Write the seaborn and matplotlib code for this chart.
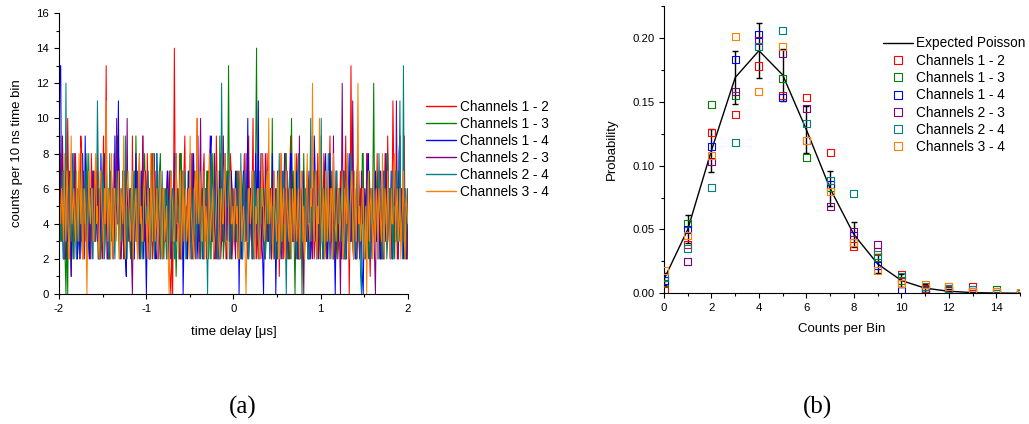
import numpy as np
import pandas as pd
import matplotlib
matplotlib.use("Agg")
import matplotlib.pyplot as plt
import seaborn as sns
from matplotlib.ticker import MultipleLocator, FormatStrFormatter
from matplotlib.lines import Line2D

# ---------------- data ----------------
channels = ["Channels 1 - 2", "Channels 1 - 3", "Channels 1 - 4",
            "Channels 2 - 3", "Channels 2 - 4", "Channels 3 - 4"]
colors = ["#FF0000", "#008000", "#0000FF", "#800080", "#008080", "#FF8000"]

# counts per 10 ns bin, -2 us .. +2 us (400 bins per channel pair)
ch12 = [5,3,8,4,3,7,6,2,2,5,10,6,4,3,1,5,7,4,3,8,5,2,6,4,2,9,8,3,4,6,3,7,7,2,5,3,2,8,6,4,
        4,7,3,5,8,2,5,6,2,3,6,9,4,5,13,4,3,6,5,2,7,4,2,8,6,3,4,5,8,7,3,2,5,6,2,4,7,3,4,5,
        3,5,6,2,9,4,2,7,5,3,4,6,7,2,3,5,9,4,5,6,2,8,6,3,4,5,8,2,3,6,7,4,5,7,2,3,6,5,4,2,
        5,4,3,6,7,2,2,1,0,3,0,5,14,6,3,4,6,2,8,5,4,3,2,7,9,4,5,2,3,6,7,3,4,8,6,5,2,4,10,6,
        4,2,6,5,3,7,8,3,5,4,2,6,7,9,4,3,6,5,3,2,9,6,5,4,2,8,6,3,4,5,7,2,3,6,5,4,8,7,2,3,
        6,3,4,7,3,2,7,5,5,4,2,6,8,3,4,5,6,9,3,4,5,6,10,3,4,5,2,7,7,4,5,2,3,8,6,5,4,3,8,6,
        3,6,5,2,7,4,2,5,6,3,4,7,1,4,8,5,5,2,3,6,6,4,2,3,7,9,4,5,5,3,3,7,8,4,6,2,2,5,4,6,
        7,4,5,3,3,6,6,2,9,5,4,7,2,3,5,4,8,6,3,2,6,5,4,8,7,3,2,4,5,6,9,3,3,5,6,4,4,7,5,2,
        3,5,7,4,5,2,2,6,9,3,4,5,0,4,13,6,3,2,6,5,4,7,8,3,2,6,5,4,7,2,3,5,6,8,4,3,1,4,5,6,
        6,4,3,5,8,2,4,6,2,3,7,5,5,8,3,4,9,6,4,2,6,5,11,7,3,4,5,2,2,6,7,3,4,5,6,9,3,4,5,2]
ch13 = [4,5,6,3,3,7,7,2,0,4,0,6,5,3,8,4,2,5,4,7,6,2,3,5,7,4,5,8,2,3,4,6,8,5,3,2,6,4,5,7,
        3,5,7,4,4,2,2,6,6,3,5,8,3,4,8,5,4,2,2,7,7,3,5,4,3,6,6,9,4,5,2,3,5,7,7,2,3,5,6,4,
        5,3,2,6,4,5,7,3,9,6,3,4,5,2,6,7,2,4,8,5,4,3,3,6,6,2,5,8,7,4,2,5,4,3,3,7,8,4,5,6,
        2,4,6,5,4,3,3,7,7,2,5,6,2,4,1,3,6,5,4,8,8,2,3,6,5,4,2,3,7,5,4,6,6,2,3,7,5,4,8,3,
        4,6,2,5,6,3,5,4,3,7,7,2,4,5,2,6,8,4,5,3,3,6,6,2,9,5,4,7,2,3,5,4,7,6,13,5,3,2,6,4,
        5,4,3,6,7,2,4,5,2,3,6,7,5,4,3,5,8,2,4,6,6,3,2,5,5,8,14,4,4,2,7,5,3,6,6,4,2,3,5,7,
        4,5,6,3,10,4,3,6,5,2,2,7,7,4,4,5,6,3,3,8,8,4,5,2,2,6,10,5,7,3,0,4,5,6,3,2,6,5,0,4,
        8,4,3,6,5,2,2,5,7,3,4,6,4,7,6,3,3,5,5,2,9,4,4,6,2,3,6,5,5,8,3,4,7,2,4,5,6,3,2,6,
        5,6,3,4,7,5,4,2,2,6,8,3,5,7,3,4,6,2,4,5,2,3,7,6,5,4,3,8,8,2,4,5,6,3,2,7,5,4,3,6,
        12,5,4,3,6,7,3,4,5,2,2,6,7,3,4,5,8,4,3,6,5,2,6,4,2,7,4,3,7,5,3,6,5,4,6,2,4,5,2,3]
ch14 = [6,13,13,4,4,2,2,6,7,3,3,5,5,4,1,7,8,3,4,6,6,2,3,5,2,4,7,8,5,3,9,4,4,6,3,2,6,5,2,7,
        5,3,7,4,3,6,4,2,8,5,2,3,6,7,5,4,3,2,4,6,7,5,2,3,9,4,5,6,11,3,3,5,6,4,4,7,2,1,7,5,
        4,6,3,5,6,2,2,4,8,3,5,7,3,4,7,5,4,2,6,3,0,4,5,6,2,3,7,5,4,8,3,2,8,4,5,6,2,3,6,5,
        3,4,5,2,7,6,4,3,2,5,6,4,3,7,8,5,5,3,2,4,4,6,0,3,6,5,3,2,7,4,5,6,2,3,8,5,4,7,3,2,
        6,3,4,5,2,6,7,4,5,2,3,5,6,8,9,3,4,6,2,4,5,7,3,2,7,5,6,4,4,3,8,6,2,5,5,3,3,7,6,4,
        4,5,7,3,3,6,0,4,5,2,2,7,6,4,4,5,10,3,3,6,5,2,7,4,2,8,6,5,11,3,4,6,3,2,0,4,5,7,6,3,
        3,5,5,2,8,4,2,6,0,3,6,5,4,7,3,2,7,4,5,6,2,3,6,5,4,8,8,3,3,4,5,6,7,2,2,5,4,3,6,7,
        5,4,3,6,7,2,4,5,2,3,6,4,9,7,5,2,3,6,4,5,7,3,2,4,6,8,5,2,3,5,8,4,4,6,2,3,0,4,5,6,
        3,5,6,2,4,7,7,3,2,4,5,6,8,3,3,5,6,4,4,2,2,6,7,5,5,3,3,1,0,4,6,5,4,7,8,3,2,6,5,4,
        4,6,7,3,3,5,5,2,2,4,6,7,4,3,8,5,3,6,5,4,7,2,2,5,6,3,4,6,3,8,9,4,5,3,2,6,6,5,4,6]
ch23 = [3,9,5,4,9,6,4,2,2,5,6,3,7,4,3,6,5,2,8,4,2,5,4,7,6,3,3,5,7,2,5,4,2,6,6,3,4,5,3,7,
        5,3,7,4,4,6,2,5,6,3,3,7,8,4,5,2,2,6,4,5,6,3,3,4,7,6,10,4,4,5,5,2,3,6,2,4,7,5,10,3,
        4,5,6,2,0,4,3,6,5,3,7,4,2,5,4,6,9,3,3,7,6,4,5,2,2,6,4,3,8,5,3,4,6,2,4,5,7,3,2,6,
        6,4,3,5,5,2,7,6,2,3,4,5,8,4,3,6,5,3,6,2,2,4,7,5,4,3,3,6,6,4,5,2,8,5,2,3,4,6,7,9,
        3,6,10,4,4,2,2,5,6,3,5,7,3,4,7,5,4,2,8,6,2,3,5,4,6,2,3,7,9,5,4,3,2,6,7,4,5,2,3,5,
        5,3,2,6,6,4,4,2,7,5,3,6,5,4,8,3,2,7,4,5,6,2,3,4,7,6,5,3,2,5,4,8,6,4,3,2,8,6,5,3,
        4,5,6,2,3,7,5,4,2,3,7,6,4,5,3,2,6,4,8,3,5,7,2,4,4,6,7,3,3,5,5,2,6,4,2,9,4,5,6,3,
        0,4,5,3,3,6,7,2,4,5,2,4,6,3,5,7,3,2,8,4,4,6,2,5,7,3,5,4,3,6,6,2,4,5,9,3,2,6,5,4,
        6,3,0,5,12,4,3,6,5,2,7,4,2,5,4,3,11,6,3,4,6,2,5,7,2,3,7,5,4,6,3,2,8,4,5,3,6,5,2,4,
        4,2,0,5,6,3,3,7,7,4,5,2,2,6,8,3,4,5,6,2,3,4,5,7,7,3,11,5,2,4,4,6,6,3,3,5,5,2,2,4]
ch24 = [5,4,3,6,7,2,2,5,12,4,4,3,6,7,3,5,8,2,5,4,2,6,4,3,7,5,3,2,6,4,5,7,2,3,8,5,4,6,3,2,
        6,3,4,5,11,7,5,2,3,4,7,6,2,3,6,5,4,2,8,4,3,6,5,3,2,5,7,4,4,2,6,3,3,7,5,4,9,6,2,5,
        4,3,6,5,3,2,7,4,5,6,2,3,8,5,4,2,3,6,6,4,5,3,7,5,2,6,4,3,6,2,3,5,8,4,5,7,2,3,7,4,
        3,6,5,2,6,4,2,5,7,3,4,6,3,2,8,5,5,4,6,3,2,7,4,5,7,2,3,4,5,6,8,3,2,5,6,4,4,2,5,7,
        7,4,3,5,5,2,4,6,6,3,0,5,4,2,8,3,3,6,5,4,7,2,2,5,6,4,12,7,4,3,3,5,5,6,7,2,2,4,6,3,
        4,5,6,3,3,7,5,2,8,4,2,6,7,3,4,5,6,2,3,4,5,7,2,3,7,5,4,6,3,2,6,4,8,5,5,3,2,6,4,7,
        6,2,3,5,5,4,7,3,2,6,4,5,8,2,3,4,6,7,5,3,0,4,4,6,7,2,3,5,5,4,6,3,2,7,8,4,4,2,5,6,
        3,5,6,4,4,2,2,6,10,3,5,4,3,7,7,2,4,5,6,3,10,4,2,6,5,3,3,5,8,2,4,6,6,4,2,3,5,7,7,4,
        4,6,5,3,3,5,7,2,2,4,6,5,4,3,8,6,3,2,5,4,2,7,7,3,4,1,0,5,6,4,3,2,5,6,7,3,2,5,4,6,
        6,4,3,5,5,2,8,6,4,3,2,5,7,4,5,2,3,6,6,3,4,7,2,5,5,4,7,3,3,6,11,4,4,2,13,5,2,4,5,6]
ch34 = [7,5,4,6,5,3,8,4,3,7,6,2,2,5,9,4,5,6,4,3,7,5,3,8,6,4,8,2,2,6,5,3,0,4,7,5,4,6,6,3,
        3,6,8,4,5,3,2,7,7,5,4,2,6,4,11,5,3,6,5,2,8,4,2,6,6,3,4,5,7,2,3,6,5,4,9,3,2,5,6,7,
        5,4,3,6,7,2,4,5,6,3,2,7,8,4,5,3,3,6,7,5,4,2,6,4,2,8,5,3,8,6,3,4,6,2,4,5,7,3,2,6,
        6,3,4,5,3,2,0,4,7,6,5,3,3,5,8,4,4,2,6,7,2,4,7,3,5,6,3,4,6,2,9,5,4,3,2,6,7,4,10,5,
        4,7,6,3,3,5,7,2,5,4,2,6,8,3,4,5,6,2,3,4,5,7,7,3,2,5,6,4,4,6,8,3,3,2,5,6,7,4,4,5,
        3,5,6,4,5,2,2,6,7,3,4,5,4,2,0,3,3,6,6,4,5,7,7,3,2,5,4,6,6,2,3,4,8,5,5,3,4,6,7,4,
        10,4,5,6,3,2,7,5,4,3,6,7,2,4,8,3,5,6,3,2,7,5,4,3,6,4,2,6,5,3,8,4,3,5,6,2,4,7,7,3,
        5,2,3,6,8,4,4,3,6,5,12,4,3,6,7,2,5,4,10,6,4,3,6,5,2,7,5,3,7,4,3,6,6,2,8,5,4,3,5,6,
        6,3,4,5,7,2,3,6,5,4,8,3,2,5,6,7,4,2,7,5,3,6,12,4,5,3,4,6,6,2,3,5,0,4,7,3,5,6,4,2,
        7,4,3,6,5,2,6,5,4,3,8,4,2,6,5,3,7,5,3,2,6,4,4,7,8,3,5,6,3,4,6,2,4,5,7,3,2,6,5,4]
series = [ch12, ch13, ch14, ch23, ch24, ch34]

# right panel
bins = [0, 1, 2, 3, 4, 5, 6, 7, 8, 9, 10, 11, 12, 13, 14, 15]
poisson = [0.011, 0.050, 0.112, 0.169, 0.190, 0.171, 0.128, 0.082,
           0.046, 0.023, 0.010, 0.004, 0.0016, 0.0005, 0.0002, 0.00005]
poisson_err = [0.0045, 0.011, 0.017, 0.021, 0.0215, 0.0205, 0.0185, 0.014,
               0.010, 0.0075, 0.005, 0.003, 0.0015, 0.0005, 0.0002, 0.0001]
p12 = [0.003, 0.038, 0.126, 0.140, 0.178, 0.155, 0.153, 0.110, 0.037, 0.033, 0.015, 0.004, 0.005, 0.005, 0.001, 0.0]
p13 = [0.008, 0.055, 0.148, 0.155, 0.193, 0.168, 0.106, 0.083, 0.040, 0.028, 0.010, 0.002, 0.003, 0.001, 0.003, 0.0]
p14 = [0.010, 0.050, 0.115, 0.183, 0.203, 0.153, 0.120, 0.085, 0.045, 0.022, 0.002, 0.003, 0.002, 0.001, 0.0, 0.0]
p23 = [0.012, 0.025, 0.103, 0.158, 0.198, 0.188, 0.145, 0.068, 0.048, 0.038, 0.008, 0.003, 0.002, 0.001, 0.0, 0.0]
p24 = [0.012, 0.035, 0.083, 0.118, 0.193, 0.206, 0.133, 0.088, 0.078, 0.030, 0.013, 0.005, 0.004, 0.003, 0.0, 0.0]
p34 = [0.018, 0.045, 0.108, 0.201, 0.158, 0.193, 0.120, 0.080, 0.040, 0.018, 0.008, 0.007, 0.005, 0.001, 0.001, 0.0005]
probs = [p12, p13, p14, p23, p24, p34]

# ---------------- style ----------------
sns.set_style("ticks")
plt.rcParams["font.family"] = ["Liberation Sans", "DejaVu Sans"]
plt.rcParams.update({
    "axes.unicode_minus": False,
    "axes.linewidth": 0.8,
    "xtick.major.width": 0.8, "ytick.major.width": 0.8,
    "xtick.minor.width": 0.8, "ytick.minor.width": 0.8,
    "xtick.major.size": 3.5, "ytick.major.size": 3.5,
    "xtick.minor.size": 2, "ytick.minor.size": 2,
    "xtick.color": "black", "ytick.color": "black",
    "axes.edgecolor": "black", "text.color": "black",
    "axes.labelcolor": "black",
})

fig = plt.figure(figsize=(10.29, 4.24), dpi=100)
ax1 = fig.add_axes([0.0573, 0.3066, 0.339, 0.6627])
ax2 = fig.add_axes([0.6453, 0.3083, 0.346, 0.6776])

# ---------------- left panel ----------------
frames = []
for name, vals in zip(channels, series):
    t = np.linspace(-2, 2, len(vals))
    frames.append(pd.DataFrame({"t": t, "counts": vals, "channel": name}))
df = pd.concat(frames, ignore_index=True)
sns.lineplot(data=df, x="t", y="counts", hue="channel", hue_order=channels,
             palette=colors, linewidth=0.75, estimator=None, sort=False,
             legend=False, ax=ax1)
ax1.set_xlim(-2, 2)
ax1.set_ylim(0, 16)
ax1.xaxis.set_major_locator(MultipleLocator(1))
ax1.xaxis.set_minor_locator(MultipleLocator(0.5))
ax1.yaxis.set_major_locator(MultipleLocator(2))
ax1.yaxis.set_minor_locator(MultipleLocator(1))
ax1.tick_params(labelsize=8.2, pad=3.5)
ax1.set_xlabel("time delay [\u03bcs]", fontsize=9.5, labelpad=9)
ax1.set_ylabel("counts per 10 ns time bin", fontsize=9.5, labelpad=10)
sns.despine(ax=ax1)
h1 = [Line2D([], [], color=c, lw=1) for c in colors]
ax1.legend(h1, channels, loc="upper left", bbox_to_anchor=(0.414, 0.765),
           bbox_transform=fig.transFigure, frameon=False, fontsize=9.8,
           handlelength=2.2, handletextpad=0.3, labelspacing=0.22,
           borderpad=0, borderaxespad=0)

# ---------------- right panel ----------------
sns.lineplot(x=bins, y=poisson, color="black", linewidth=1, ax=ax2)
ax2.errorbar(bins, poisson, yerr=poisson_err, fmt="none", ecolor="black",
             elinewidth=1, capsize=2.5, capthick=1, zorder=3)
for name, vals, c in zip(channels, probs, colors):
    sns.scatterplot(x=bins, y=vals, marker="s", s=26, ax=ax2, zorder=4)
    coll = ax2.collections[-1]
    coll.set_facecolor("none")
    coll.set_edgecolor(c)
    coll.set_linewidth(0.8)
ax2.set_xlim(0, 15)
ax2.set_ylim(0, 0.225)
ax2.xaxis.set_major_locator(MultipleLocator(2))
ax2.xaxis.set_minor_locator(MultipleLocator(1))
ax2.yaxis.set_major_locator(MultipleLocator(0.05))
ax2.yaxis.set_minor_locator(MultipleLocator(0.025))
ax2.yaxis.set_major_formatter(FormatStrFormatter("%.2f"))
ax2.tick_params(labelsize=8.2, pad=3.5)
ax2.set_xlabel("Counts per Bin", fontsize=9.5, labelpad=7.5)
ax2.set_ylabel("Probability", fontsize=9.5, labelpad=10.5)
sns.despine(ax=ax2)
h2 = [Line2D([], [], color="black", lw=1)] + [
    Line2D([], [], marker="s", ls="none", markerfacecolor="none",
           markeredgecolor=c, markersize=5.2, markeredgewidth=0.8)
    for c in colors]
ax2.legend(h2, ["Expected Poisson"] + channels, loc="upper left",
           bbox_to_anchor=(0.858, 0.914), bbox_transform=fig.transFigure,
           frameon=False, fontsize=9.8, handlelength=2.2, handletextpad=0.2,
           labelspacing=0.24, borderpad=0, borderaxespad=0)

# ---------------- panel labels ----------------
fig.text(243 / 1029, 1 - 407 / 424, "(a)", ha="center", va="center",
         fontsize=18, family=["Liberation Serif", "DejaVu Serif"])
fig.text(818 / 1029, 1 - 407 / 424, "(b)", ha="center", va="center",
         fontsize=18, family=["Liberation Serif", "DejaVu Serif"])

fig.savefig("out.png", dpi=100)
